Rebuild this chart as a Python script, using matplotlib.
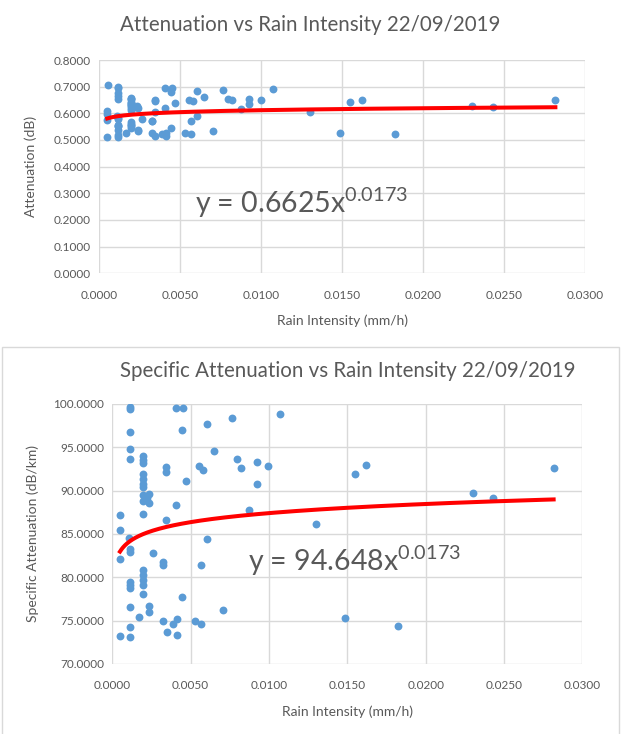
import matplotlib
matplotlib.use("Agg")
import matplotlib.pyplot as plt
import numpy as np
from matplotlib.patches import Rectangle

plt.rcParams['font.family'] = ['Lato', 'DejaVu Sans']
plt.rcParams['mathtext.fontset'] = 'custom'
plt.rcParams['mathtext.rm'] = 'Lato'
plt.rcParams['mathtext.it'] = 'Lato'

# Rain intensity (mm/h) for each sample
rain = [0.00113, 0.00113, 0.00406, 0.00449, 0.00113, 0.00445, 0.00605, 0.00765,
        0.0107, 0.00113, 0.00113, 0.00194, 0.00194, 0.00194, 0.00343, 0.00343,
        0.00194, 0.00194, 0.00194, 0.00194, 0.0047, 0.00555, 0.00577, 0.00649,
        0.00797, 0.00821, 0.00925, 0.00997, 0.00925, 0.00874, 0.00196, 0.00234,
        0.00194, 0.00236, 0.0022, 0.00406, 0.00049, 0.00194, 0.00343, 0.00049,
        0.0155, 0.01622, 0.02302, 0.02432, 0.02817, 0.01299, 0.01486, 0.01824,
        0.00108, 0.00113, 0.00113, 0.00049, 0.00262, 0.00325, 0.00325, 0.00564,
        0.00602, 0.00194, 0.00194, 0.00194, 0.00194, 0.00194, 0.00113, 0.00113,
        0.00113, 0.00445, 0.00113, 0.00236, 0.00236, 0.00168, 0.00325, 0.00411,
        0.00385, 0.00347, 0.00411, 0.00527, 0.00564, 0.00113, 0.00049, 0.00113,
        0.00704, 0.00056]

# Measured attenuation (dB)
attenuation = [0.6979, 0.6958, 0.6965, 0.6965, 0.6776, 0.6790, 0.6839, 0.6888,
               0.6923, 0.6636, 0.6552, 0.6580, 0.6545, 0.6524, 0.6489, 0.6447,
               0.6433, 0.6391, 0.6356, 0.6328, 0.6377, 0.6496, 0.6468, 0.6622,
               0.6552, 0.6482, 0.6531, 0.6496, 0.6356, 0.6146, 0.6265, 0.6272,
               0.6216, 0.6202, 0.6237, 0.6181, 0.6104, 0.6111, 0.6062, 0.5978,
               0.6437, 0.6503, 0.6283, 0.6241, 0.6482, 0.6034, 0.5268, 0.5208,
               0.5915, 0.5831, 0.5803, 0.5747, 0.5793, 0.5726, 0.5698, 0.5702,
               0.5908, 0.5656, 0.5618, 0.5579, 0.5537, 0.5467, 0.5565, 0.5537,
               0.5509, 0.5443, 0.5362, 0.5369, 0.5320, 0.5278, 0.5250, 0.5261,
               0.5222, 0.5159, 0.5131, 0.5250, 0.5222, 0.5201, 0.5124, 0.5117,
               0.5334, 0.7063]

# Specific attenuation (dB/km)
specific = [99.7, 99.4, 99.5, 99.5, 96.8, 97.0, 97.7, 98.4,
            98.9, 94.8, 93.6, 94.0, 93.5, 93.2, 92.7, 92.1,
            91.9, 91.3, 90.8, 90.4, 91.1, 92.8, 92.4, 94.6,
            93.6, 92.6, 93.3, 92.8, 90.8, 87.8, 89.5, 89.6,
            88.8, 88.6, 89.1, 88.3, 87.2, 87.3, 86.6, 85.4,
            91.95, 92.9, 89.76, 89.15, 92.6, 86.2, 75.25, 74.4,
            84.5, 83.3, 82.9, 82.1, 82.75, 81.8, 81.4, 81.45,
            84.4, 80.8, 80.25, 79.7, 79.1, 78.1, 79.5, 79.1,
            78.7, 77.75, 76.6, 76.7, 76.0, 75.4, 75.0, 75.15,
            74.6, 73.7, 73.3, 75.0, 74.6, 74.3, 73.2, 73.1,
            76.2, 100.9]

# Power-law trendline coefficients
att_coef, att_exp = 0.6625, 0.0173
spec_coef, spec_exp = 94.648, 0.0173

x_ticks = [0.0, 0.005, 0.010, 0.015, 0.020, 0.025, 0.030]
att_ticks = [0.0, 0.1, 0.2, 0.3, 0.4, 0.5, 0.6, 0.7, 0.8]
spec_ticks = [70, 75, 80, 85, 90, 95, 100]

TXT = '#595959'
GRID = '#d9d9d9'
BLUE = '#5b9bd5'
RED = '#ff0000'

W, H = 621, 734
fig = plt.figure(figsize=(W / 100, H / 100), dpi=100)


def px_axes(left, top, right, bottom):
    return fig.add_axes([left / W, 1 - bottom / H, (right - left) / W, (bottom - top) / H])


def style(ax, yticks, ylim, yfmt):
    ax.set_xlim(0, 0.03)
    ax.set_ylim(*ylim)
    ax.set_xticks(x_ticks)
    ax.set_xticklabels([f'{v:.4f}' for v in x_ticks])
    ax.set_yticks(yticks)
    ax.set_yticklabels([yfmt.format(v) for v in yticks])
    for s in ax.spines.values():
        s.set_visible(False)
    ax.grid(True, color=GRID, linewidth=1.0)
    ax.set_axisbelow(True)
    ax.tick_params(length=0, labelsize=8.5, colors=TXT)
    ax.tick_params(axis='x', pad=12)
    ax.tick_params(axis='y', pad=6)


def equation(ax, coef, exp, x, y):
    txt = f'y = {coef}x' + r'$^{' + f'{exp}' + r'}$'
    ax.text(x, y, txt, transform=ax.transAxes, fontsize=20.5, color=TXT,
            va='baseline', ha='left')


# Attenuation chart
ax1 = px_axes(99.3, 60, 585, 273.3)
style(ax1, att_ticks, (0, 0.8), '{:.4f}')
ax1.scatter(rain, attenuation, s=32, color=BLUE, zorder=3, linewidths=0)
xt = np.geomspace(min(rain), max(rain), 200)
ax1.plot(xt, att_coef * xt ** att_exp, color=RED, linewidth=2.9, zorder=4)
ax1.set_xlabel('Rain Intensity (mm/h)', fontsize=10, color=TXT, labelpad=10)
ax1.set_ylabel('Attenuation (dB)', fontsize=10, color=TXT, labelpad=12)
equation(ax1, att_coef, att_exp, (195 - 99.3) / 485.7, (273.3 - 213) / 213.3)
fig.text(310 / W, 1 - 25 / H, 'Attenuation vs Rain Intensity 22/09/2019',
         fontsize=14.8, color=TXT, ha='center', va='center')

# Frame around the second chart
fig.patches.append(Rectangle((2 / W, -0.01), 617 / W, (H - 347) / H + 0.01,
                             transform=fig.transFigure, fill=False,
                             edgecolor='#d9d9d9', linewidth=1.0))

# Specific attenuation chart
ax2 = px_axes(112.3, 404, 582.3, 663.8)
style(ax2, spec_ticks, (70, 100), '{:.4f}')
ax2.scatter(rain, specific, s=32, color=BLUE, zorder=3, linewidths=0)
ax2.plot(xt, spec_coef * xt ** spec_exp, color=RED, linewidth=2.9, zorder=4)
ax2.set_xlabel('Rain Intensity (mm/h)', fontsize=10, color=TXT, labelpad=10)
ax2.set_ylabel('Specific Attenuation (dB/km)', fontsize=10, color=TXT, labelpad=10)
equation(ax2, spec_coef, spec_exp, (248 - 112.3) / 470, (663.8 - 571) / 259.8)
fig.text(348 / W, 1 - 371 / H, 'Specific Attenuation vs Rain Intensity 22/09/2019',
         fontsize=14.8, color=TXT, ha='center', va='center')

fig.savefig('out.png', dpi=100)
